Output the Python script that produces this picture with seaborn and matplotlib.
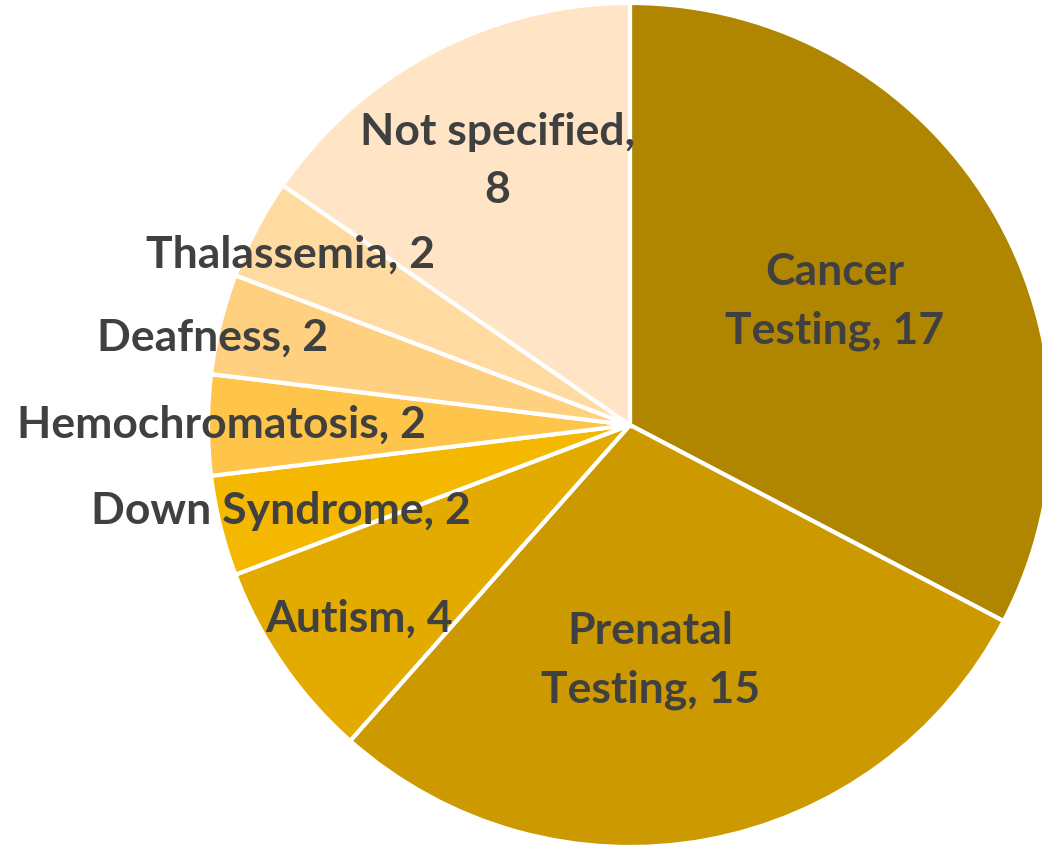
import numpy as np
import matplotlib
matplotlib.use("Agg")
import matplotlib.pyplot as plt
import seaborn as sns

categories = ["Cancer\nTesting", "Prenatal\nTesting", "Autism", "Down Syndrome",
              "Hemochromatosis", "Deafness", "Thalassemia", "Not specified,\n"]
counts = [17, 15, 4, 2, 2, 2, 2, 8]
colors = ["#B08600", "#CC9A00", "#E3AA00", "#F5B800",
          "#FFC44A", "#FFD080", "#FFDBA2", "#FFE5C6"]
# label placement: radial distance (fraction of radius) and angle nudge (deg)
label_r = [0.567, 0.56, 0.79, 0.853, 0.967, 1.01, 0.90, 0.70]
label_da = [0, -5.5, 1, 0, 0, 2, 1, -1]

sns.set_theme(style="white")
plt.rcParams["font.family"] = ["Lato", "DejaVu Sans"]

fig = plt.figure(figsize=(10.42, 8.5), dpi=100)
ax = fig.add_axes([0, 0, 1, 1])

wedges, _ = ax.pie(counts, colors=colors, startangle=90, counterclock=False,
                   radius=1.0, wedgeprops=dict(edgecolor="white", linewidth=3))

total = sum(counts)
start = 90.0
for name, n, r, da in zip(categories, counts, label_r, label_da):
    span = 360.0 * n / total
    mid = np.deg2rad(start - span / 2 + da)
    start -= span
    if name.endswith(",\n"):
        txt = f"{name}{n}"
    else:
        txt = f"{name}, {n}"
    ax.text(r * np.cos(mid), r * np.sin(mid), txt, ha="center", va="center",
            fontsize=32, fontweight="bold", color="#404040", linespacing=1.55)

px = 422.0
ax.set_xlim(-630 / px, (1042 - 630) / px)
ax.set_ylim(-(850 - 425) / px, 425 / px)
ax.set_aspect("auto")
ax.axis("off")

fig.savefig("out.png", dpi=100)
